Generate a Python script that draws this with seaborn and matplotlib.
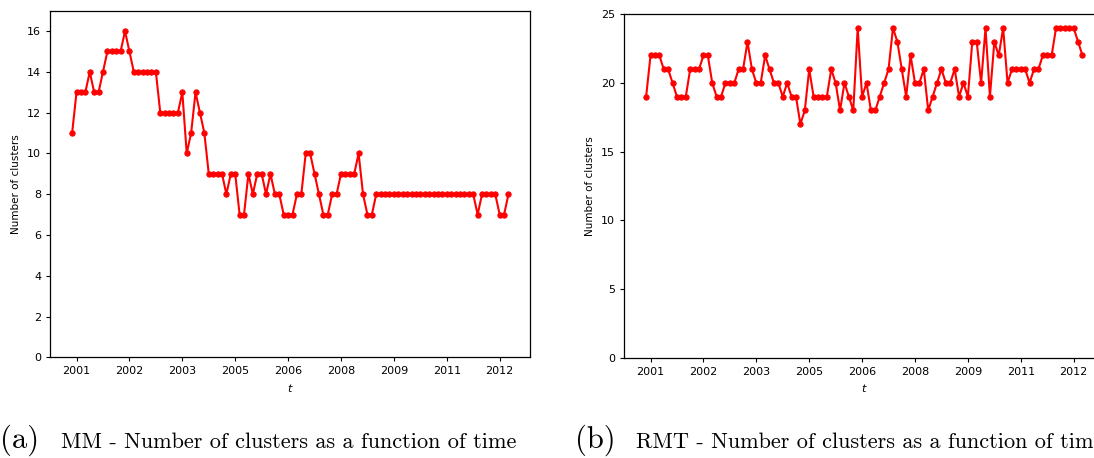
import matplotlib
matplotlib.use("Agg")
import matplotlib.pyplot as plt
import seaborn as sns
import numpy as np

# ---- data ----
tick_labels = ["2001", "2002", "2003", "2005", "2006", "2008", "2009", "2011", "2012"]
tick_index = [1, 13, 25, 37, 49, 61, 73, 85, 97]

mm_clusters = [11, 13, 13, 13, 14, 13, 13, 14, 15, 15, 15, 15, 16, 15,
               14, 14, 14, 14, 14, 14, 12, 12, 12, 12, 12, 13, 10, 11, 13, 12, 11,
               9, 9, 9, 9, 8, 9, 9, 7, 7, 9, 8, 9, 9, 8, 9, 8, 8, 7, 7, 7,
               8, 8, 10, 10, 9, 8, 7, 7, 8, 8, 9, 9, 9, 9, 10, 8, 7, 7,
               8, 8, 8, 8, 8, 8, 8, 8, 8, 8, 8, 8, 8, 8, 8, 8, 8, 8, 8, 8, 8, 8, 8,
               7, 8, 8, 8, 8, 7, 7, 8]

rmt_clusters = [19, 22, 22, 22, 21, 21, 20, 19, 19, 19, 21, 21, 21, 22, 22,
                20, 19, 19, 20, 20, 20, 21, 21, 23, 21, 20, 20, 22, 21, 20, 20,
                19, 20, 19, 19, 17, 18, 21, 19, 19, 19, 19, 21, 20, 18, 20, 19, 18,
                24, 19, 20, 18, 18, 19, 20, 21, 24, 23, 21, 19, 22, 20, 20, 21,
                18, 19, 20, 21, 20, 20, 21, 19, 20, 19, 23, 23, 20, 24, 19, 23,
                22, 24, 20, 21, 21, 21, 21, 20, 21, 21, 22, 22, 22, 24, 24, 24,
                24, 24, 23, 22]

mm_x = list(range(len(mm_clusters)))
rmt_x = list(range(len(rmt_clusters)))

W, H = 1094, 458
fig = plt.figure(figsize=(W / 100, H / 100), dpi=100)
fig.patch.set_facecolor("white")

def px_axes(x0, y0, x1, y1):
    return fig.add_axes([x0 / W, 1 - y1 / H, (x1 - x0) / W, (y1 - y0) / H])

ax1 = px_axes(50.3, 10.7, 530.3, 357.3)
ax2 = px_axes(624.3, 14.3, 1104.3, 357.5)

line_kw = dict(color="red", marker="o", markersize=3.8, linewidth=1.5,
               markeredgecolor="red")

sns.lineplot(x=mm_x, y=mm_clusters, ax=ax1, **line_kw)
sns.lineplot(x=rmt_x, y=rmt_clusters, ax=ax2, **line_kw)

for ax, top, yt in [(ax1, 17, np.arange(0, 17, 2)), (ax2, 25, np.arange(0, 26, 5))]:
    ax.set_ylim(0, top)
    ax.set_yticks(yt)
    ax.set_xticks(tick_index)
    ax.set_xticklabels(tick_labels)
    ax.tick_params(labelsize=8, length=3, width=0.8)
    ax.set_xlabel("$t$", fontsize=8)
    ax.set_ylabel("Number of clusters", fontsize=7.5)
    ax.yaxis.set_label_coords(-0.061, 0.5)
    for s in ax.spines.values():
        s.set_linewidth(0.9)

# captions
fig.text(0.0, 1 - 448 / H, "(a)", fontfamily="cmr10", fontsize=22, va="baseline")
fig.text(61 / W, 1 - 448 / H, "MM - Number of clusters as a function of time",
         fontfamily="cmr10", fontsize=16, va="baseline")
fig.text(575 / W, 1 - 448 / H, "(b)", fontfamily="cmr10", fontsize=22, va="baseline")
fig.text(636 / W, 1 - 448 / H, "RMT - Number of clusters as a function of time",
         fontfamily="cmr10", fontsize=16, va="baseline")

fig.savefig("out.png", dpi=100)
